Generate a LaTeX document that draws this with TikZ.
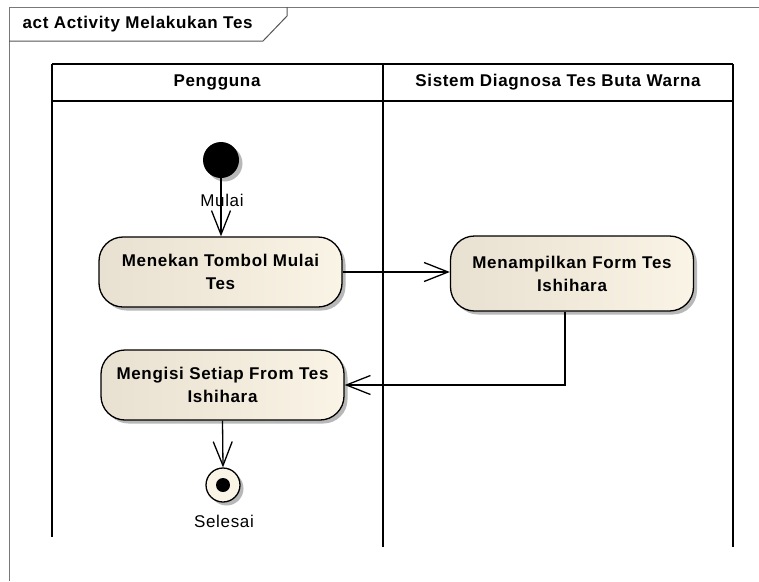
\documentclass[tikz,border=0pt]{standalone}
\usepackage{fontspec}
\usetikzlibrary{arrows.meta,shadows}
\newfontfamily\dfont{Liberation Sans}[LetterSpace=4]
\definecolor{actleft}{RGB}{232,224,208}
\definecolor{actright}{RGB}{250,244,230}
\definecolor{framegray}{RGB}{120,120,120}
\tikzset{
  bold16/.style={font=\dfont\bfseries\fontsize{17}{23}\selectfont},
  reg16/.style={font=\dfont\fontsize{17}{20}\selectfont},
  shad/.style={drop shadow={shadow xshift=3.5pt, shadow yshift=-3.5pt, fill=black!28, opacity=1}},
  action/.style={bold16, rounded corners=24pt, draw, line width=1.3pt,
    left color=actleft, right color=actright, minimum width=243pt,
    minimum height=70pt, align=center, inner sep=0pt, shad},
  flow/.style={line width=1.3pt, -{Straight Barb[length=24pt,width=19pt,line width=1.3pt]}},
  lane/.style={line width=1.6pt},
}
\begin{document}
\begin{tikzpicture}[x=1pt,y=-1pt]
\useasboundingbox (0,0) rectangle (759,581);
% frame
\draw[framegray, line width=1pt] (9,581) -- (9,7) -- (759,7);
\draw[framegray!70!black, line width=1pt] (9,41) -- (263,41) -- (287,16) -- (287,7);
\node[bold16, anchor=west] (title) at (19,24) {act Activity Melakukan Tes};
% swimlanes
\draw[lane] (52,64) -- (733,64);
\draw[lane] (52,101) -- (733,101);
\draw[lane] (52,64) -- (52,537);
\draw[lane] (383,64) -- (383,547);
\draw[lane] (733,64) -- (733,547);
\node[bold16] (lane1) at (217,82) {Pengguna};
\node[bold16] (lane2) at (558,82) {Sistem Diagnosa Tes Buta Warna};
% nodes
\node[circle, fill=black, minimum size=36pt, inner sep=0pt, shad] (start) at (221,160) {};
\node[action] (a1) at (220.5,272) {Menekan Tombol Mulai\\Tes};
\node[action, minimum height=75pt] (a2) at (572,273.5) {Menampilkan Form Tes\\Ishihara};
\node[action] (a3) at (222.5,385) {Mengisi Setiap From Tes\\Ishihara};
\node[circle, draw, line width=1.3pt, fill=actright, minimum size=34pt, inner sep=0pt, shad] (end) at (223,485) {};
\node[circle, fill=black, minimum size=14pt, inner sep=0pt] (enddot) at (end.center) {};
\node[reg16] (lstart) at (222,200) {Mulai};
\node[reg16] (lend) at (224,521) {Selesai};
% flows
\draw[flow] (start) -- (a1.north -| start);
\draw[flow] (a1.east) -- (a1.east -| a2.west);
\draw[flow] ([xshift=-7pt]a2.south) |- (a3.east);
\draw[flow] (a3.south) -- (end.north);
\end{tikzpicture}
\end{document}
